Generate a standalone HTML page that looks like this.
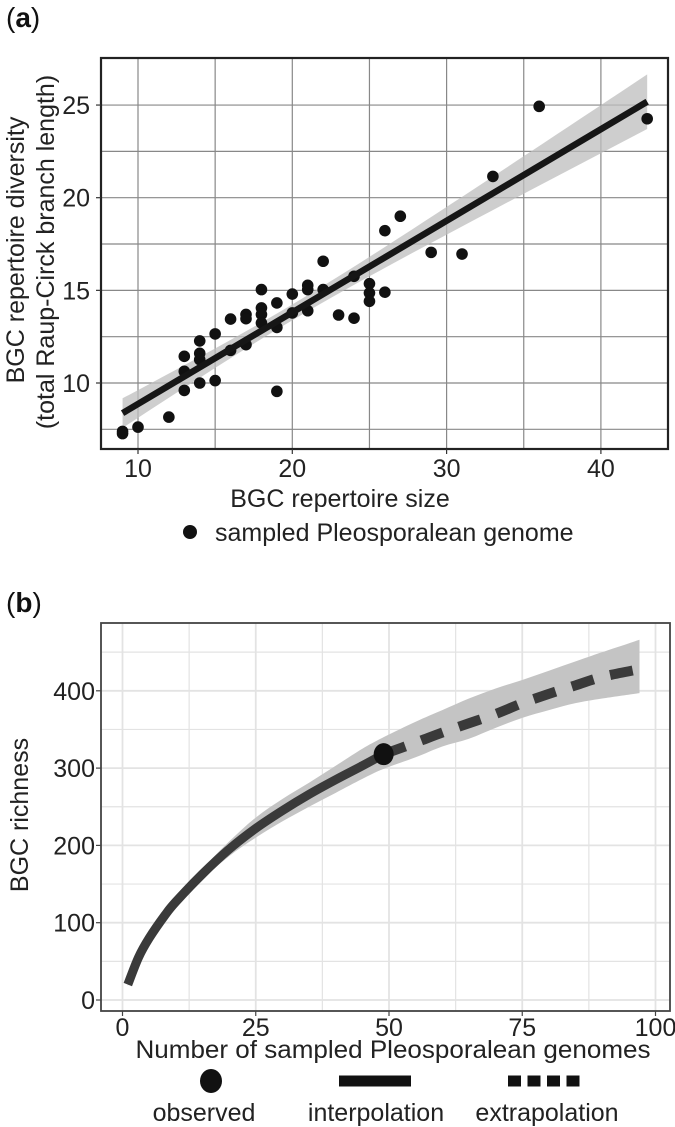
<!DOCTYPE html>
<html><head><meta charset="utf-8"><style>
html,body{margin:0;padding:0;background:#fff;}
svg{display:block;font-family:"Liberation Sans",Arial,sans-serif;}
</style></head><body>
<svg id="fig" width="675" height="1127" viewBox="0 0 675 1127">
<g id="pa"></g>
<g id="pb"></g>
</svg>
<script>
// Panel a data
const aX = [9,9,10,12,13,13,13,14,14,14,14,15,15,16,16,17,17,17,18,18,18,18,19,19,19,20,20,21,21,21,22,22,23,24,24,25,25,25,26,26,27,29,31,33,36,43];
const aY = [7.39,7.27,7.62,8.16,11.44,10.63,9.6,12.27,11.6,11.26,10.0,12.65,10.13,13.45,11.76,13.7,13.47,12.07,15.04,14.05,13.7,13.24,14.32,13.0,9.55,14.8,13.78,15.27,15.04,13.9,16.57,15.04,13.67,15.76,13.5,15.36,14.86,14.41,18.22,14.9,19.0,17.05,16.96,21.15,24.93,24.26];
const aXTicks = [10,20,30,40];
const aYTicks = [10,15,20,25];
// Panel b data
const bXInt = [1,3,5,8,10,15,20,25,30,35,40,45,49];
const bYInt = [20,55,80,110,127,163,195,222,245,266,285,303,318];
const bXExt = [49,55,60,65,70,75,80,85,90,97];
const bYExt = [318,333,346,358,370,384,396,407,418,428];
const bBandX = [1,5,10,15,20,25,30,35,40,45,49,55,60,65,70,75,80,85,90,97];
const bBandHi = [22,84,133,170,205,236,260,281,303,325,340,360,375,390,403,414,426,438,450,466];
const bBandLo = [18,76,121,156,186,210,231,250,268,286,299,314,328,338,352,365,375,384,390,397];
const bObsX = [49];
const bObsY = [318];
const bXTicks = [0,25,50,75,100];
const bYTicks = [0,100,200,300,400];

const NS='http://www.w3.org/2000/svg';
function mk(parent,tag,attrs,text){const e=document.createElementNS(NS,tag);for(const k in attrs)e.setAttribute(k,attrs[k]);if(text!==undefined)e.textContent=text;parent.appendChild(e);return e;}
function smooth(pts){let d='M'+pts[0][0]+','+pts[0][1];for(let i=0;i<pts.length-1;i++){const p0=pts[Math.max(0,i-1)],p1=pts[i],p2=pts[i+1],p3=pts[Math.min(pts.length-1,i+2)];
const c1=[p1[0]+(p2[0]-p0[0])/6,p1[1]+(p2[1]-p0[1])/6],c2=[p2[0]-(p3[0]-p1[0])/6,p2[1]-(p3[1]-p1[1])/6];d+=' C'+c1+' '+c2+' '+p2;}return d;}
function smoothCont(pts){return smooth(pts).replace(/^M/,'L');}

// ---------- Panel a ----------
const pa=document.getElementById('pa');
const ax=v=>138+(v-10)*15.43, ay=v=>383-(v-10)*18.53;
const aL=101,aR=668,aT=58,aB=449;
let t=mk(pa,'text',{x:6,y:27,'font-size':28,fill:'#111'});


t.innerHTML='(<tspan font-weight="bold">a</tspan>)';
for(let v=10;v<=40;v+=5){const g=mk(pa,'line',{x1:ax(v),x2:ax(v),y1:aT,y2:aB,stroke:'#888','stroke-width':1.2});

}
for(let v=7.5;v<=25;v+=2.5){const g=mk(pa,'line',{x1:aL,x2:aR,y1:ay(v),y2:ay(v),stroke:'#888','stroke-width':1.2});

}
const n=aX.length;const mx=aX.reduce((a,b)=>a+b)/n,my=aY.reduce((a,b)=>a+b)/n;
let sxx=0,sxy=0;aX.forEach((x,i)=>{sxx+=(x-mx)**2;sxy+=(x-mx)*(aY[i]-my);});
const b1=sxy/sxx,b0=my-b1*mx;let sse=0;aX.forEach((x,i)=>{sse+=(aY[i]-b0-b1*x)**2;});
const s=Math.sqrt(sse/(n-2));const xmin=Math.min(...aX),xmax=Math.max(...aX);
let up=[],lo=[];for(let k=0;k<=40;k++){const x=xmin+(xmax-xmin)*k/40;const h=2.015*s*Math.sqrt(1/n+(x-mx)**2/sxx);const f=b0+b1*x;up.push(ax(x)+','+ay(f+h));lo.unshift(ax(x)+','+ay(f-h));}
const band=mk(pa,'polygon',{points:up.concat(lo).join(' '),fill:'#bdbdbd','fill-opacity':0.75});


aX.forEach((x,i)=>{const c=mk(pa,'circle',{cx:ax(x),cy:ay(aY[i]),r:5.8,fill:'#111'});

});
const rl=mk(pa,'line',{x1:ax(xmin),y1:ay(b0+b1*xmin),x2:ax(xmax),y2:ay(b0+b1*xmax),stroke:'#161616','stroke-width':6.5});


const fa=mk(pa,'rect',{x:aL,y:aT,width:aR-aL,height:aB-aT,fill:'none',stroke:'#222','stroke-width':2.2});


aXTicks.forEach(v=>{mk(pa,'line',{x1:ax(v),x2:ax(v),y1:aB,y2:aB+5,stroke:'#333','stroke-width':1.2});const l=mk(pa,'text',{x:ax(v),y:477,'font-size':25,'text-anchor':'middle',fill:'#222'},v);

});
aYTicks.forEach(v=>{mk(pa,'line',{x1:aL-5,x2:aL,y1:ay(v),y2:ay(v),stroke:'#333','stroke-width':1.2});const l=mk(pa,'text',{x:90,y:ay(v)+9,'font-size':25,'text-anchor':'end',fill:'#222'},v);

});
t=mk(pa,'text',{x:340,y:507,'font-size':25,'text-anchor':'middle',fill:'#222'},'BGC repertoire size');


t=mk(pa,'text',{transform:'translate(24,250) rotate(-90)','font-size':25,'text-anchor':'middle',fill:'#222'},'BGC repertoire diversity');


t=mk(pa,'text',{transform:'translate(54,252) rotate(-90)','font-size':25,'text-anchor':'middle',fill:'#222'},'(total Raup-Circk branch length)');


let lg=mk(pa,'g',{});


mk(lg,'circle',{cx:190,cy:532,r:7,fill:'#111'});
mk(lg,'text',{x:215,y:541,'font-size':25,fill:'#222'},'sampled Pleosporalean genome');

// ---------- Panel b ----------
const pb=document.getElementById('pb');
const bx=v=>122.5+v*5.33, by=v=>1000-v*0.773;
const bL=101,bR=670,bT=623,bB=1011;
t=mk(pb,'text',{x:6,y:612,'font-size':28,fill:'#111'});


t.innerHTML='(<tspan font-weight="bold">b</tspan>)';
for(let v=0;v<=100;v+=12.5){const g=mk(pb,'line',{x1:bx(v),x2:bx(v),y1:bT,y2:bB,stroke:'#e3e3e3','stroke-width':v%25===0?1.8:1.2});

}
for(let v=0;v<=450;v+=50){const g=mk(pb,'line',{x1:bL,x2:bR,y1:by(v),y2:by(v),stroke:'#e3e3e3','stroke-width':v%100===0?1.8:1.2});

}
const hiPts=bBandX.map((x,i)=>[bx(x),by(bBandHi[i])]);
const loPts=bBandX.map((x,i)=>[bx(x),by(bBandLo[i])]).reverse();
const bband=mk(pb,'path',{d:smooth(hiPts)+' '+smoothCont(loPts)+' Z',fill:'#c4c4c4'});


const ip=mk(pb,'path',{d:smooth(bXInt.map((x,i)=>[bx(x),by(bYInt[i])])),fill:'none',stroke:'#3a3a3a','stroke-width':9});


const ep=mk(pb,'path',{d:smooth(bXExt.map((x,i)=>[bx(x),by(bYExt[i])])),fill:'none',stroke:'#3a3a3a','stroke-width':10,'stroke-dasharray':'23 17'});


bObsX.forEach((x,i)=>{const c=mk(pb,'ellipse',{cx:bx(x),cy:by(bObsY[i]),rx:10,ry:11,fill:'#111'});

});
const fb=mk(pb,'rect',{x:bL,y:bT,width:bR-bL,height:bB-bT,fill:'none',stroke:'#444','stroke-width':1.8});


bXTicks.forEach(v=>{mk(pb,'line',{x1:bx(v),x2:bx(v),y1:bB,y2:bB+5,stroke:'#444','stroke-width':1.2});const l=mk(pb,'text',{x:bx(v),y:1036,'font-size':25,'text-anchor':'middle',fill:'#222'},v);

});
bYTicks.forEach(v=>{mk(pb,'line',{x1:bL-5,x2:bL,y1:by(v),y2:by(v),stroke:'#444','stroke-width':1.2});const l=mk(pb,'text',{x:95,y:by(v)+9,'font-size':25,'text-anchor':'end',fill:'#222'},v);

});
t=mk(pb,'text',{x:393,y:1058,'font-size':25,'text-anchor':'middle',fill:'#222','textLength':515,'lengthAdjust':'spacingAndGlyphs'},'Number of sampled Pleosporalean genomes');


t=mk(pb,'text',{transform:'translate(28,815) rotate(-90)','font-size':25,'text-anchor':'middle',fill:'#222'},'BGC richness');


lg=mk(pb,'g',{});


mk(lg,'ellipse',{cx:211,cy:1081,rx:11,ry:12,fill:'#111'});
mk(lg,'line',{x1:339,x2:411,y1:1081,y2:1081,stroke:'#111','stroke-width':11});
mk(lg,'line',{x1:508,x2:581,y1:1081,y2:1081,stroke:'#111','stroke-width':11,'stroke-dasharray':'13 6.5'});
mk(lg,'text',{x:204,y:1121,'font-size':25,'text-anchor':'middle',fill:'#222'},'observed');
mk(lg,'text',{x:376,y:1121,'font-size':25,'text-anchor':'middle',fill:'#222'},'interpolation');
mk(lg,'text',{x:547,y:1121,'font-size':25,'text-anchor':'middle',fill:'#222'},'extrapolation');
</script>
</body></html>
